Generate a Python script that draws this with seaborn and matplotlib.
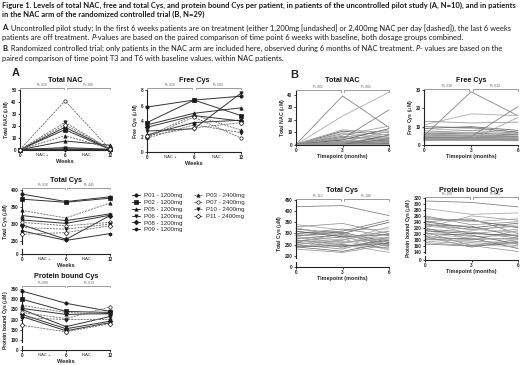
import numpy as np
import pandas as pd
import matplotlib
matplotlib.use("Agg")
import matplotlib.pyplot as plt
import matplotlib.transforms as mtransforms
from matplotlib.lines import Line2D
import seaborn as sns

# ---------------- data ----------------
patients_A = ["P01", "P02", "P05", "P06", "P08", "P09", "P03", "P07", "P10", "P11"]
dose_A = ["1200mg"] * 6 + ["2400mg"] * 4
weeks = [0, 6, 12]

nac_A_w0 = [0.2, 0.3, 0.2, 0.4, 0.3, 0.2, 0.3, 0.4, 0.3, 0.2]
nac_A_w6 = [19, 17, 7.5, 2, 1, 0.5, 12, 41, 23, 21]
nac_A_w12 = [0.8, 0.5, 4, 0.6, 0.4, 0.3, 1.2, 0.5, 0.8, 1.0]

free_A_w0 = [5.8, 3.8, 3.5, 2.7, 3.2, 2.2, 2.0, 1.9, 1.8, 2.1]
free_A_w6 = [6.7, 6.7, 5.0, 3.0, 4.7, 3.8, 4.8, 4.5, 3.5, 3.1]
free_A_w12 = [7.2, 4.7, 5.7, 7.6, 4.0, 4.1, 2.8, 1.8, 2.5, 3.8]

tcys_A_w0 = [388, 373, 325, 312, 298, 280, 340, 305, 290, 270]
tcys_A_w6 = [366, 364, 310, 302, 255, 252, 318, 295, 285, 275]
tcys_A_w12 = [380, 376, 330, 326, 325, 272, 362, 305, 300, 295]

pbc_A_w0 = [340, 300, 255, 250, 225, 215, 270, 235, 210, 172]
pbc_A_w6 = [280, 240, 225, 165, 155, 145, 235, 205, 200, 140]
pbc_A_w12 = [240, 235, 230, 215, 192, 185, 225, 262, 200, 180]

months = [0, 3, 6]
nac_B_t0 = [0.5, 0.3, 0.8, 0.2, 0.4, 0.6, 0.3, 0.2, 0.5, 0.4, 0.3, 0.2, 0.6, 0.4, 0.3,
            0.5, 0.2, 0.3, 0.4, 0.2, 0.5, 0.3, 0.6, 0.2, 0.4, 0.3, 0.5, 0.2, 0.3]
nac_B_t3 = [39, 23, 12, 11, 10, 9, 8, 7, 6, 6, 5, 5, 4, 4, 3,
            3, 2.5, 2, 2, 1.5, 1, 1, 0.8, 0.5, 0.5, 0.4, 0.3, 0.2, 0.2]
nac_B_t6 = [14, 42, 10, 8, 6, 5, 15, 4, 12, 3, 28, 7, 2, 13, 9,
            1, 11, 4, 0.5, 6, 3, 0.5, 2, 1, 0.5, 5, 0.3, 8, 0.4]

free_B_t0 = [5, 11, 13, 9, 8, 7, 6.5, 6, 5.5, 5, 4.8, 4.5, 4.2, 4, 3.8,
             3.6, 3.5, 3.3, 3.2, 3, 3, 2.8, 2.6, 2.5, 2.4, 4, 6, 10, 3.4]
free_B_t3 = [29, 17, 12, 10, 9, 8, 7, 6.5, 6, 5.5, 5, 4.5, 4.2, 4, 3.8,
             3.5, 3.3, 3.2, 3, 2.8, 4.5, 3, 3.5, 2.6, 2.5, 4, 5, 9.5, 3.8]
free_B_t6 = [16, 16, 12.5, 8, 7, 6.5, 6, 5.5, 5, 4.5, 4.5, 4, 3.8, 3.5, 3.4,
             3.2, 3, 2.8, 2.6, 2.5, 21, 15, 3.3, 2.4, 2.3, 6, 4.2, 7, 3.6]

tcys_B_t0 = [420, 340, 330, 320, 310, 300, 295, 290, 285, 280, 275, 270, 265, 260, 255,
             250, 245, 240, 235, 230, 300, 280, 260, 310, 290, 270, 250, 240, 325]
tcys_B_t3 = [425, 315, 345, 300, 290, 320, 280, 305, 270, 260, 295, 255, 285, 240, 265,
             230, 250, 220, 275, 215, 310, 260, 300, 285, 235, 250, 270, 245, 290]
tcys_B_t6 = [380, 320, 300, 350, 270, 290, 310, 260, 330, 280, 250, 300, 240, 270, 230,
             285, 215, 260, 225, 250, 360, 275, 245, 295, 265, 235, 310, 255, 280]

pbc_B_t0 = [310, 285, 260, 250, 245, 240, 235, 230, 225, 220, 215, 210, 205, 200, 195,
            190, 185, 180, 175, 170, 165, 255, 230, 210, 200, 190, 220, 240, 180]
pbc_B_t3 = [305, 265, 230, 245, 210, 250, 200, 225, 215, 180, 205, 190, 160, 195, 175,
            155, 170, 185, 165, 160, 158, 240, 215, 200, 185, 180, 260, 220, 175]
pbc_B_t6 = [290, 270, 240, 220, 230, 200, 215, 190, 205, 210, 185, 195, 180, 165, 170,
            175, 160, 150, 155, 140, 170, 250, 225, 195, 180, 185, 245, 235, 165]

pvals_A = {"nac": ("P=.020", "P=.108"), "free": ("P=.020", "P=.009"),
           "tcys": ("P=.020", "P=.445"), "pbc": ("P=.008", "P=.013")}
pvals_B = {"nac": ("P<.001", "P<.001"), "free": ("P=.238", "P=.014"),
           "tcys": ("P=.112", "P=.288"), "pbc": ("P=.190", "P=.043")}

# ---------------- frames ----------------
def long_A(a, b, c):
    rows = []
    for i, p in enumerate(patients_A):
        for w, v in zip(weeks, (a[i], b[i], c[i])):
            rows.append((p, dose_A[i], w, v))
    return pd.DataFrame(rows, columns=["patient", "dose", "week", "v"])

def long_B(a, b, c):
    rows = []
    for i in range(len(a)):
        for t, v in zip(months, (a[i], b[i], c[i])):
            rows.append((f"R{i:02d}", t, v))
    return pd.DataFrame(rows, columns=["patient", "month", "v"])

dfA = {"nac": long_A(nac_A_w0, nac_A_w6, nac_A_w12),
       "free": long_A(free_A_w0, free_A_w6, free_A_w12),
       "tcys": long_A(tcys_A_w0, tcys_A_w6, tcys_A_w12),
       "pbc": long_A(pbc_A_w0, pbc_A_w6, pbc_A_w12)}
dfB = {"nac": long_B(nac_B_t0, nac_B_t3, nac_B_t6),
       "free": long_B(free_B_t0, free_B_t3, free_B_t6),
       "tcys": long_B(tcys_B_t0, tcys_B_t3, tcys_B_t6),
       "pbc": long_B(pbc_B_t0, pbc_B_t3, pbc_B_t6)}

# ---------------- figure ----------------
sns.set_theme(style="ticks")
plt.rcParams["font.family"] = ["Liberation Sans", "DejaVu Sans"]
W, H = 520, 365
fig = plt.figure(figsize=(W / 100, H / 100), dpi=100)
fig.patch.set_facecolor("white")
renderer = fig.canvas.get_renderer()

def ax_px(l, t, r, b):
    return fig.add_axes([l / W, 1 - b / H, (r - l) / W, (b - t) / H])

TICK_FS = 3.3
SPINE = "#222222"

def style_ax(ax):
    for s in ("top", "right"):
        ax.spines[s].set_visible(False)
    for s in ("left", "bottom"):
        ax.spines[s].set_linewidth(0.8)
        ax.spines[s].set_color(SPINE)
    ax.tick_params(length=1.6, width=0.6, labelsize=TICK_FS, pad=0.8, colors=SPINE)
    for lab in ax.get_xticklabels() + ax.get_yticklabels():
        lab.set_fontweight("bold")
    ax.set_facecolor("none")

def ylab(ax, text, frac=0.5):
    ax.set_ylabel(text, fontsize=3.7, fontweight="bold", labelpad=0.6)
    ax.yaxis.label.set_y(frac)

mk = {"P01": ("o", "k"), "P02": ("s", "k"), "P05": ("^", "k"), "P06": ("v", "k"),
      "P08": ("D", "k"), "P09": ("h", "k"), "P03": ("^", "k"), "P07": ("o", "white"),
      "P10": ("v", "k"), "P11": ("D", "white")}

def draw_A(ax, key):
    d = dfA[key]
    for p, dose in zip(patients_A, dose_A):
        sub = d[d.patient == p]
        m, fc = mk[p]
        solid = dose == "1200mg"
        sns.lineplot(data=sub, x="week", y="v", ax=ax, color="#333333" if solid else "#6a6a6a",
                     lw=0.7 if solid else 0.6,
                     linestyle="-" if solid else (0, (2.5, 1.2)),
                     marker=m, markersize=2.4, markerfacecolor=fc, markeredgecolor="k",
                     markeredgewidth=0.5, legend=False, clip_on=False, zorder=3)

def x_weeks(ax):
    ax.set_xlim(0, 12)
    ax.set_xticks([0, 6, 12])
    ax.set_xticklabels(["0", "6", "12"])
    ax.set_xticks([3, 9], minor=True)
    ax.set_xticklabels(["NAC +", "NAC -"], minor=True)
    ax.tick_params(axis="x", which="minor", length=0, labelsize=3.0, pad=2.4)
    ax.set_xlabel("Weeks", fontsize=4.1, fontweight="bold", labelpad=0.3)

def x_months(ax):
    ax.set_xlim(0, 6)
    ax.set_xticks([0, 3, 6])
    ax.set_xlabel("Timepoint (months)", fontsize=3.9, fontweight="bold", labelpad=0.4)

def bracket(ax, x0, x1, text, dy=2.5):
    bb = ax.get_position()
    hpx = bb.height * H
    trans = mtransforms.blended_transform_factory(ax.transData, ax.transAxes)
    y = 1 + dy / hpx
    yt = y - 1.6 / hpx
    ax.plot([x0, x0, x1, x1], [yt, y, y, yt], transform=trans, color="#8a8a8a",
            lw=0.6, clip_on=False)
    ax.text((x0 + x1) / 2, y + 0.6 / hpx, text, transform=trans, fontsize=2.4,
            ha="center", va="bottom", color="#666666")

def title(ax, text, y_px):
    bb = ax.get_position()
    fig.text((bb.x0 + bb.x1) / 2, 1 - y_px / H, text, ha="center", va="center",
             fontsize=5.2, fontweight="bold", color="#111111")

def broken(l, r, top, mid_bottom, low_top, low_bottom, ylim, yticks):
    up = ax_px(l, top, r, mid_bottom)
    lo = ax_px(l, low_top, r, low_bottom)
    up.set_ylim(*ylim)
    up.set_yticks(yticks)
    up.spines["bottom"].set_visible(False)
    lo.set_ylim(0, 1)
    lo.set_yticks([0])
    return up, lo

def finish_broken(up, lo):
    up.set_xlabel("")
    style_ax(up); style_ax(lo)
    up.tick_params(axis="x", which="both", bottom=False, labelbottom=False)

# ---------- Panel A ----------
a1 = ax_px(20, 90, 110, 150)
draw_A(a1, "nac")
a1.set_ylim(0, 50)
a1.set_yticks([0, 10, 20, 30, 40, 50])
x_weeks(a1)
style_ax(a1)
ylab(a1, "Total NAC ($\\mu$M)")
title(a1, "Total NAC", 81)
bracket(a1, 0, 5.8, pvals_A["nac"][0])
bracket(a1, 6.2, 12, pvals_A["nac"][1])

a2 = ax_px(147, 90, 241, 152)
draw_A(a2, "free")
a2.set_ylim(0, 8)
a2.set_yticks([0, 2, 4, 6, 8])
x_weeks(a2)
style_ax(a2)
ylab(a2, "Free Cys ($\\mu$M)")
title(a2, "Free Cys", 81)
bracket(a2, 0, 5.8, pvals_A["free"][0])
bracket(a2, 6.2, 12, pvals_A["free"][1])

a3u, a3l = broken(22, 110, 190, 244.5, 249, 254, (240, 400), [250, 300, 350, 400])
draw_A(a3u, "tcys")
a3u.set_xlim(0, 12)
x_weeks(a3l)
finish_broken(a3u, a3l)
ylab(a3u, "Total Cys ($\\mu$M)", 0.42)
title(a3u, "Total Cys", 180)
bracket(a3u, 0, 5.8, pvals_A["tcys"][0])
bracket(a3u, 6.2, 12, pvals_A["tcys"][1])

a4u, a4l = broken(22, 110, 289, 342, 346, 350, (90, 350), [100, 150, 200, 250, 300, 350])
draw_A(a4u, "pbc")
a4u.set_xlim(0, 12)
x_weeks(a4l)
finish_broken(a4u, a4l)
ylab(a4u, "Protein bound Cys ($\\mu$M)", 0.42)
title(a4u, "Protein bound Cys", 277)
bracket(a4u, 0, 5.8, pvals_A["pbc"][0], dy=3.5)
bracket(a4u, 6.2, 12, pvals_A["pbc"][1], dy=3.5)

# Legend
hl = []
for p, dose in zip(patients_A, dose_A):
    m, fc = mk[p]
    solid = dose == "1200mg"
    hl.append(Line2D([], [], color="#333333" if solid else "#6a6a6a",
                     linestyle="-" if solid else (0, (2, 1)), lw=0.7, marker=m,
                     markersize=2.4, markerfacecolor=fc, markeredgecolor="k",
                     markeredgewidth=0.5, label=f"{p} - {dose}"))
leg_kw = dict(frameon=False, fontsize=4.4, handlelength=1.3, handletextpad=0.6,
              labelspacing=0.25, borderpad=0, borderaxespad=0, loc="upper left")
fig.legend(handles=hl[:6], bbox_to_anchor=(132 / W, 1 - 193 / H), **leg_kw)
fig.legend(handles=hl[6:], bbox_to_anchor=(194 / W, 1 - 193 / H), **leg_kw)

# ---------- Panel B ----------
grays = ["#7a7a7a", "#a5a5a5", "#8f8f8f", "#5e5e5e", "#b2b2b2", "#858585", "#9c9c9c",
         "#6c6c6c", "#aaaaaa", "#939393"]

def draw_B(ax, key):
    d = dfB[key]
    pal = {p: grays[i % len(grays)] for i, p in enumerate(d.patient.unique())}
    sns.lineplot(data=d, x="month", y="v", hue="patient", palette=pal, units="patient",
                 estimator=None, lw=0.55, ax=ax, legend=False, clip_on=False)

b1 = ax_px(296, 91, 389, 145)
draw_B(b1, "nac")
b1.set_ylim(0, 43)
b1.set_yticks([0, 10, 20, 30, 40])
x_months(b1)
style_ax(b1)
ylab(b1, "Total NAC ($\\mu$M)")
title(b1, "Total NAC", 81)
bracket(b1, 0, 2.9, pvals_B["nac"][0], dy=1.0)
bracket(b1, 3.1, 6, pvals_B["nac"][1], dy=1.0)

b2 = ax_px(424, 90, 518, 145)
draw_B(b2, "free")
b2.set_ylim(0, 30)
b2.set_yticks([0, 10, 20, 30])
x_months(b2)
style_ax(b2)
ylab(b2, "Free Cys ($\\mu$M)")
title(b2, "Free Cys", 81)
bracket(b2, 0, 2.9, pvals_B["free"][0], dy=1.0)
bracket(b2, 3.1, 6, pvals_B["free"][1], dy=1.0)

b3u, b3l = broken(296, 389, 200, 258, 262, 267, (190, 450), [200, 250, 300, 350, 400, 450])
draw_B(b3u, "tcys")
b3u.set_xlim(0, 6)
x_months(b3l)
finish_broken(b3u, b3l)
ylab(b3u, "Total Cys ($\\mu$M)", 0.42)
title(b3u, "Total Cys", 190)
bracket(b3u, 0, 2.9, pvals_B["tcys"][0], dy=1.0)
bracket(b3u, 3.1, 6, pvals_B["tcys"][1], dy=1.0)

b4u, b4l = broken(425, 518, 198, 253, 256, 260, (135, 320),
                  [140, 160, 180, 200, 220, 240, 260, 280, 300, 320])
draw_B(b4u, "pbc")
b4u.set_xlim(0, 6)
x_months(b4l)
finish_broken(b4u, b4l)
ylab(b4u, "Protein bound Cys ($\\mu$M)", 0.45)
title(b4u, "Protein bound Cys", 190)
bracket(b4u, 0, 2.9, pvals_B["pbc"][0], dy=1.0)
bracket(b4u, 3.1, 6, pvals_B["pbc"][1], dy=1.0)

fig.text(12 / W, 1 - 73 / H, "A", fontsize=8, fontweight="bold", va="center", ha="left")
fig.text(290 / W, 1 - 75 / H, "B", fontsize=8, fontweight="bold", va="center", ha="left")

# ---------------- header text ----------------
HF = ["Lato", "DejaVu Sans"]
HCOL = "#1a1a1a"
line1 = ("Figure 1. Levels of total NAC, free and total Cys, and protein bound Cys per patient, "
         "in patients of the uncontrolled pilot study (A, N=10), and in patients")
lineA1 = (" Uncontrolled pilot study; In the first 6 weeks patients are on treatment (either 1,200mg "
          "[undashed] or 2,400mg NAC per day [dashed]), the last 6 weeks")

def fit(text, weight, target):
    probe = fig.text(0, 0, text, fontsize=10, fontweight=weight, family=HF)
    w = probe.get_window_extent(renderer).width
    probe.remove()
    return 10 * target / w

BFS = fit(line1, "bold", 512)
RFS = fit("A." + lineA1, "normal", 504)

def runs(x_px, y_px, parts, fs):
    x = x_px
    for txt, wt, st in parts:
        t = fig.text(x / W, 1 - y_px / H, txt, fontsize=fs, fontweight=wt, fontstyle=st,
                     family=HF, va="center", ha="left", color=HCOL)
        x += t.get_window_extent(renderer).width

runs(2, 5, [(line1, "bold", "normal")], BFS)
runs(2, 14.5, [("in the NAC arm of the randomized controlled trial (B, N=29)", "bold", "normal")], BFS)
runs(2, 28, [("A.", "bold", "normal"), (lineA1, "normal", "normal")], RFS)
runs(2, 37.5, [("patients are off treatment. ", "normal", "normal"), ("P", "normal", "italic"),
               ("-values are based on the paired comparison of time point 6 weeks with baseline, "
                "both dosage groups combined.", "normal", "normal")], RFS)
runs(2, 48.5, [("B.", "bold", "normal"),
               (" Randomized controlled trial; only patients in the NAC arm are included here, observed "
                "during 6 months of NAC treatment. ", "normal", "normal"), ("P", "normal", "italic"),
               ("- values are based on the", "normal", "normal")], RFS)
runs(2, 58.5, [("paired comparison of time point T3 and T6 with baseline values, within NAC patients.",
                "normal", "normal")], RFS)

fig.savefig("out.png", dpi=100, facecolor="white")
